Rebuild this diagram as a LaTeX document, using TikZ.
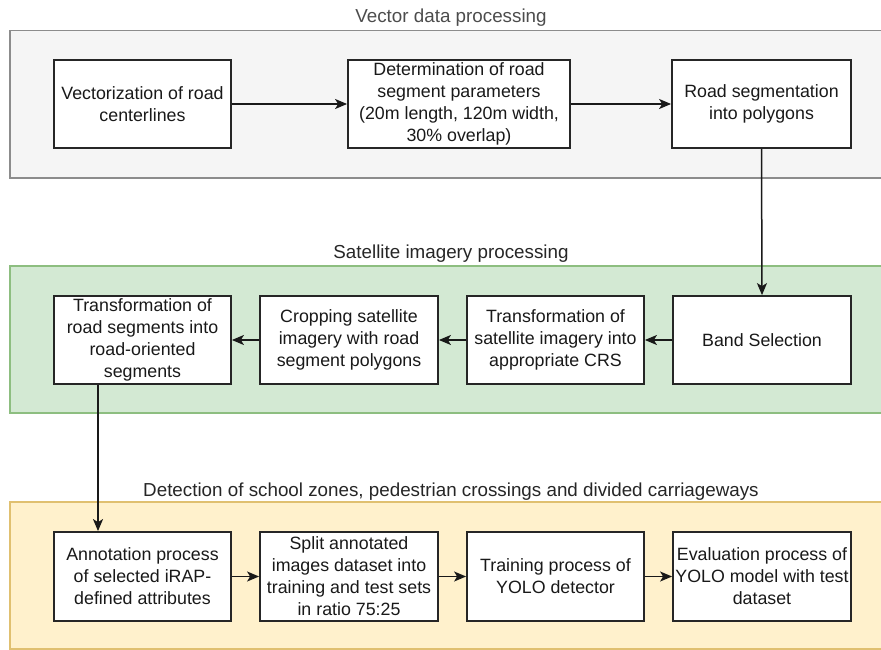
\documentclass[tikz,border=0pt]{standalone}
\usepackage{fontspec}
\setmainfont{Liberation Sans}
\usetikzlibrary{arrows.meta,calc}
\definecolor{bandgray}{HTML}{F5F5F5}
\definecolor{bandgrayline}{HTML}{8C8C8C}
\definecolor{bandgreen}{HTML}{D3E9D3}
\definecolor{bandgreenline}{HTML}{8DBE80}
\definecolor{bandyellow}{HTML}{FFF1CC}
\definecolor{bandyellowline}{HTML}{E0C070}
\definecolor{titlegray}{HTML}{262626}
\begin{document}
\begin{tikzpicture}[x=1pt,y=-1pt,
  stepbox/.style={draw=black!85,line width=1.8pt,fill=white,align=center,
    inner sep=1pt,font=\fontsize{17.8}{22}\selectfont,text=black!90},
  flow/.style={draw=black!90,line width=1.5pt,-{Stealth[length=12pt,width=10pt,inset=3pt]}},
  bandtitle/.style={anchor=base,font=\fontsize{18.8}{22}\selectfont,text=titlegray}]
\useasboundingbox (0,0) rectangle (881,650);
% swimlane backgrounds
\draw[fill=bandgray,draw=bandgrayline,line width=1.5pt] (10,30.5) rectangle (895,178);
\draw[fill=bandgreen,draw=bandgreenline,line width=1.5pt] (10,266) rectangle (895,413);
\draw[fill=bandyellow,draw=bandyellowline,line width=1.5pt] (10,502) rectangle (895,649);
% swimlane titles
\node[bandtitle,text=black!70] (t1) at (451,23) {Vector data processing};
\node[bandtitle] (t2) at (451,258) {Satellite imagery processing};
\node[bandtitle] (t3) at (451,496) {Detection of school zones, pedestrian crossings and divided carriageways};
% vector data processing
\node[stepbox,minimum width=177pt,minimum height=88pt] (v1) at (142.5,104) {Vectorization of road\\centerlines};
\node[stepbox,minimum width=222pt,minimum height=88pt] (v2) at (459,104) {Determination of road\\segment parameters\\(20m length, 120m width,\\30\% overlap)};
\node[stepbox,minimum width=179pt,minimum height=88pt] (v3) at (761.5,104) {Road segmentation\\into polygons};
% satellite imagery processing
\node[stepbox,minimum width=177pt,minimum height=88pt] (s1) at (142.5,340) {Transformation of\\road segments into\\road-oriented\\segments};
\node[stepbox,minimum width=178pt,minimum height=88pt] (s2) at (349,340) {Cropping satellite\\imagery with road\\segment polygons};
\node[stepbox,minimum width=177pt,minimum height=88pt] (s3) at (555.5,340) {Transformation of\\satellite imagery into\\appropriate CRS};
\node[stepbox,minimum width=178pt,minimum height=88pt] (s4) at (762,340) {Band Selection};
% detection
\node[stepbox,minimum width=177pt,minimum height=89pt] (d1) at (142.5,576.5) {Annotation process\\of selected iRAP-\\defined attributes};
\node[stepbox,minimum width=178pt,minimum height=89pt] (d2) at (349,576.5) {Split annotated\\images dataset into\\training and test sets\\in ratio 75:25};
\node[stepbox,minimum width=177pt,minimum height=89pt] (d3) at (555.5,576.5) {Training process of\\YOLO detector};
\node[stepbox,minimum width=178pt,minimum height=89pt] (d4) at (762,576.5) {Evaluation process of\\YOLO model with test\\dataset};
% connectors
\draw[flow] (v1) -- (v2);
\draw[flow] (v2) -- (v3);
\draw[flow] (v3.south) -- (s4.north);
\draw[flow] (s4) -- (s3);
\draw[flow] (s3) -- (s2);
\draw[flow] (s2) -- (s1);
\draw[flow] ($(s1.south)+(-44.5,0)$) -- ($(d1.north)+(-44.5,0)$);
\draw[flow] (d1) -- (d2);
\draw[flow] (d2) -- (d3);
\draw[flow] (d3) -- (d4);
\end{tikzpicture}
\end{document}
